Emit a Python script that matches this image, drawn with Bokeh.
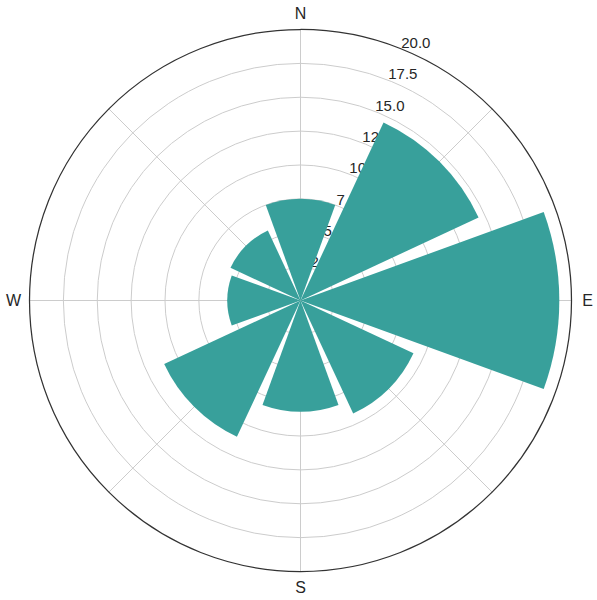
import numpy as np
from bokeh.plotting import figure
from bokeh.models import Range1d
from bokeh.core.properties import value
from bokeh.embed import file_html
from bokeh.resources import INLINE

# ---- data ----
directions = ["N", "NE", "E", "SE", "S", "SW", "W", "NW"]
compass_deg = [0, 45, 90, 135, 180, 225, 270, 315]
speeds = [7.5, 14.5, 19.1, 9.2, 8.2, 11.1, 5.4, 5.7]
r_ticks = [2.5, 5.0, 7.5, 10.0, 12.5, 15.0, 17.5, 20.0]
r_tick_labels = ["2.5", "5.0", "7.5", "10.0", "12.5", "15.0", "17.5", "20.0"]
card_labels = ["N", "E", "S", "W"]
card_deg = [0, 90, 180, 270]

R_MAX = 20.0
BAR_WIDTH_DEG = 40.0
RLABEL_DEG = 22.5
PX_PER_UNIT = 13.55
FONT = "Liberation Sans"
TEXT_COLOR = "#262626"
BAR_COLOR = "#38a09b"
GRID_COLOR = "#cccccc"

W, H = 597, 600
cx, cy = 300, 300  # center in figure px
p = figure(width=W, height=H, output_backend="svg", toolbar_location=None,
           x_range=Range1d(-cx / PX_PER_UNIT, (W - cx) / PX_PER_UNIT),
           y_range=Range1d(-(H - cy) / PX_PER_UNIT, cy / PX_PER_UNIT),
           min_border=0)
p.axis.visible = False
p.grid.visible = False
p.outline_line_color = None
p.background_fill_color = "white"

def to_math(deg):
    return np.deg2rad(90 - np.asarray(deg, dtype=float))

# grid circles
p.circle(x=[0] * (len(r_ticks) - 1), y=[0] * (len(r_ticks) - 1), radius=r_ticks[:-1],
         fill_color=None, line_color=GRID_COLOR, line_width=1)
# spokes
p.ray(x=[0] * 8, y=[0] * 8, length=R_MAX, length_units="data",
      angle=to_math(compass_deg), line_color=GRID_COLOR, line_width=1)

# radial labels (under bars)
ang = np.deg2rad(RLABEL_DEG)
rt = np.array(r_ticks)
p.text(x=rt * np.sin(ang), y=rt * np.cos(ang), text=r_tick_labels,
       text_font=value(FONT), text_font_size="15px", text_color=TEXT_COLOR,
       text_align="left", text_baseline="bottom", x_offset=-3, y_offset=-2)

# bars
cd = np.array(compass_deg, dtype=float)
p.wedge(x=[0] * 8, y=[0] * 8, radius=speeds,
        start_angle=to_math(cd + BAR_WIDTH_DEG / 2),
        end_angle=to_math(cd - BAR_WIDTH_DEG / 2),
        direction="anticlock", fill_color=BAR_COLOR, line_color=None)

# outer spine
p.circle(x=[0], y=[0], radius=[R_MAX], fill_color=None, line_color="#333333", line_width=1.25)

# cardinal labels
cdg = np.deg2rad(np.array(card_deg, dtype=float))
rl = R_MAX + 16 / PX_PER_UNIT
p.text(x=rl * np.sin(cdg), y=rl * np.cos(cdg), text=card_labels,
       text_font=value(FONT), text_font_size="16px", text_color=TEXT_COLOR,
       text_align="center", text_baseline="middle")

open("out.html", "w").write(file_html(p, INLINE))
